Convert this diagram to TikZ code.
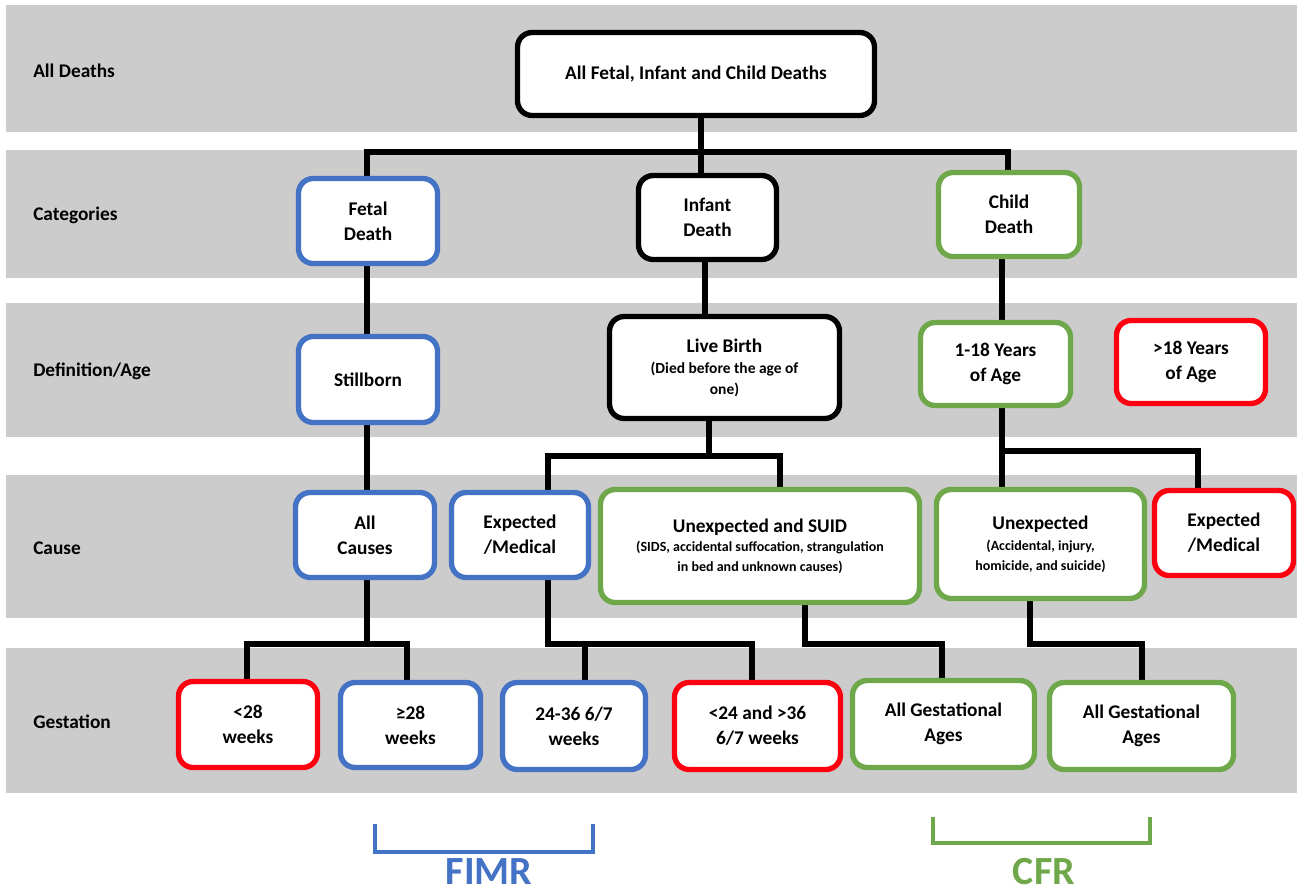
\documentclass[tikz,border=0pt]{standalone}
\usepackage{fontspec}
\setmainfont{Carlito}
\usetikzlibrary{backgrounds}
\definecolor{bandgray}{HTML}{CCCCCC}
\definecolor{cblue}{HTML}{4472C4}
\definecolor{cgreen}{HTML}{6FA84A}
\definecolor{cred}{HTML}{FF0010}
\newcommand\lbft{\fontsize{14.5}{17}\selectfont\bfseries}
\newcommand\bxft{\fontsize{14.5}{18.75}\selectfont\bfseries}
\newcommand\smft{\fontsize{10.5}{14.5}\selectfont\bfseries}
\newcommand\lbsmft{\fontsize{11.6}{14.5}\selectfont\bfseries}
\newcommand\bgft{\fontsize{30}{34}\selectfont\bfseries}
\tikzset{
  band/.style={fill=bandgray, draw=none},
  box/.style={draw, fill=white, line width=4pt, rounded corners=11pt, inner sep=0pt, outer sep=0pt, align=center, font=\bxft},
  conn/.style={line width=4.4pt, draw=black},
  rowlabel/.style={anchor=west, font=\lbft, inner sep=0pt},
  brk/.style={line width=2.4pt},
}
\newcommand\mkbox[7]{\node[box, draw=#6, minimum width={(#4-#2-5)*0.75pt}, minimum height={(#5-#3-5)*0.75pt}] (#1) at ({(#2+#4)/2},{(#3+#5)/2}) {#7};}
\begin{document}
\begin{tikzpicture}[x=0.75pt,y=-0.75pt]
\useasboundingbox (0,0) rectangle (1299,894);
% row labels
\node[rowlabel] (r1) at (33,71) {All Deaths};
\node[rowlabel] (r2) at (33,215) {Categories};
\node[rowlabel] (r3) at (33,371) {Definition/Age};
\node[rowlabel] (r4) at (33,548) {Cause};
\node[rowlabel] (r5) at (33,722) {Gestation};
% boxes
\mkbox{all}{515}{30}{877}{118}{black}{All Fetal, Infant and Child Deaths}
\mkbox{fetal}{296}{176}{440}{266}{cblue}{Fetal\\Death}
\mkbox{infant}{636}{173}{779}{262}{black}{Infant\\Death}
\mkbox{child}{936}{170}{1082}{259}{cgreen}{Child\\Death}
\mkbox{still}{296}{334}{440}{425}{cblue}{Stillborn}
\mkbox{live}{607}{314}{842}{421}{black}{Live Birth\\[-3pt]{\lbsmft (Died before the age of}\\[-3pt]{\lbsmft one)}}
\mkbox{yrs}{918}{320}{1073}{408}{cgreen}{1-18 Years\\of Age}
\mkbox{over}{1114}{318}{1268}{406}{cred}{>18 Years\\of Age}
\mkbox{allc}{293}{490}{437}{580}{cblue}{All\\Causes}
\mkbox{expb}{449}{490}{591}{580}{cblue}{Expected\\/Medical}
\mkbox{suid}{598}{487}{922}{605}{cgreen}{Unexpected and SUID\\[-4pt]{\smft (SIDS, accidental suffocation, strangulation}\\[-4pt]{\smft in bed and unknown causes)}}
\mkbox{unex}{934}{487}{1147}{601}{cgreen}{Unexpected\\[-3pt]{\smft (Accidental, injury,}\\[-4pt]{\smft homicide, and suicide)}}
\mkbox{expr}{1152}{488}{1296}{578}{cred}{Expected\\/Medical}
\mkbox{lt28}{176}{679}{320}{770}{cred}{<28\\weeks}
\mkbox{ge28}{338}{680}{483}{770}{cblue}{≥28\\weeks}
\mkbox{mid}{500}{680}{648}{772}{cblue}{24-36 6/7\\weeks}
\mkbox{out}{672}{680}{843}{772}{cred}{<24 and >36\\6/7 weeks}
\mkbox{agA}{850}{678}{1037}{770}{cgreen}{All Gestational\\Ages}
\mkbox{agB}{1047}{680}{1236}{772}{cgreen}{All Gestational\\Ages}
% junction coordinates
\coordinate (b1) at (701,152);
\coordinate (b1l) at (367,152);
\coordinate (b1r) at (1008,152);
\coordinate (b2) at (709,456);
\coordinate (b2l) at (548,456);
\coordinate (b2r) at (780,456);
\coordinate (b3) at (1002,451);
\coordinate (b3r) at (1198,451);
\coordinate (b4) at (367,644);
\coordinate (b4l) at (247,644);
\coordinate (b4r) at (407,644);
\coordinate (b5) at (548,644);
\coordinate (b5m) at (585,644);
\coordinate (b5r) at (752,644);
\coordinate (b6) at (805,644);
\coordinate (b6r) at (942,644);
\coordinate (b7) at (1030,644);
\coordinate (b7r) at (1142,644);
\begin{scope}[on background layer]
  \fill[band] (6,5) rectangle (1297,132);
  \fill[band] (6,150) rectangle (1297,278);
  \fill[band] (6,303) rectangle (1297,437);
  \fill[band] (6,475) rectangle (1297,618);
  \fill[band] (6,648) rectangle (1297,793);
  % connectors
  \draw[conn] (all.south -| b1) -- (infant.north -| b1);
  \draw[conn] (fetal.north -| b1l) -- (b1l) -- (b1r) -- (child.north -| b1r);
  \draw[conn] (fetal.south -| b1l) -- (still.north -| b1l);
  \draw[conn] (still.south -| b1l) -- (allc.north -| b1l);
  \draw[conn] (infant.south -| 705,0) -- (live.north -| 705,0);
  \draw[conn] (child.south -| b3) -- (yrs.north -| b3);
  \draw[conn] (live.south -| b2) -- (b2);
  \draw[conn] (expb.north -| b2l) -- (b2l) -- (b2r) -- (suid.north -| b2r);
  \draw[conn] (yrs.south -| b3) -- (unex.north -| b3);
  \draw[conn] (b3) -- (b3r) -- (expr.north -| b3r);
  \draw[conn] (allc.south -| b4) -- (b4);
  \draw[conn] (lt28.north -| b4l) -- (b4l) -- (b4r) -- (ge28.north -| b4r);
  \draw[conn] (expb.south -| b5) -- (b5) -- (b5r) -- (out.north -| b5r);
  \draw[conn] (b5m) -- (mid.north -| b5m);
  \draw[conn] (suid.south -| b6) -- (b6) -- (b6r) -- (agA.north -| b6r);
  \draw[conn] (unex.south -| b7) -- (b7) -- (b7r) -- (agB.north -| b7r);
\end{scope}
% brackets
\draw[brk, cblue] (375,824) -- (375,852) -- (593,852) -- (593,824);
\node[text=cblue, font=\bgft, inner sep=0] (fimr) at (489,872) {FIMR};
\draw[brk, cgreen] (933,817) -- (933,843) -- (1150,843) -- (1150,817);
\node[text=cgreen, font=\bgft, inner sep=0] (cfr) at (1044,872) {CFR};
\end{tikzpicture}
\end{document}
